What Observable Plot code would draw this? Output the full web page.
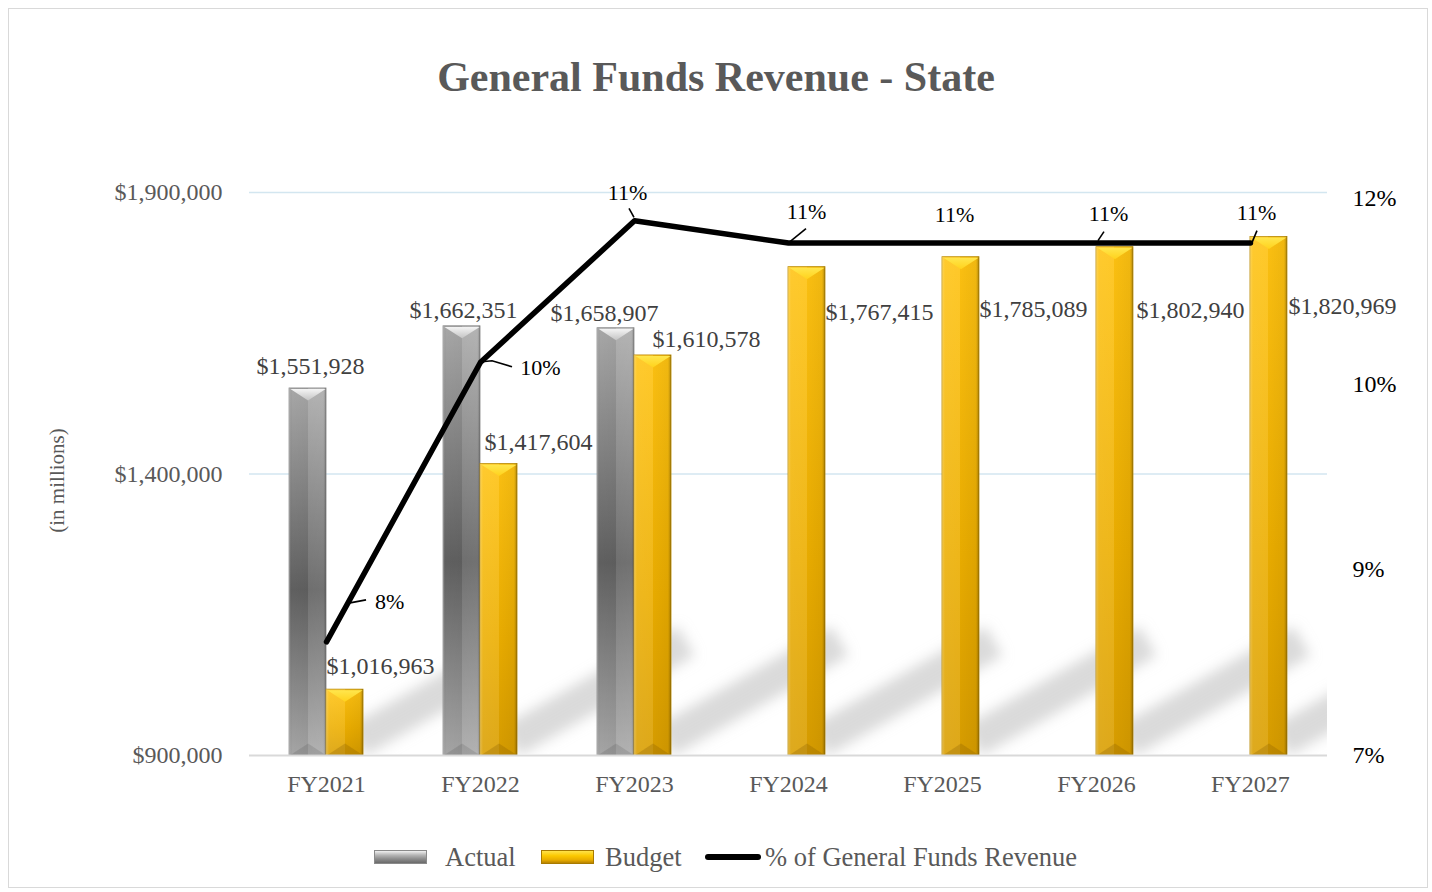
<!DOCTYPE html>
<html>
<head>
<meta charset="utf-8">
<script src="https://cdn.jsdelivr.net/npm/d3@7"></script>
<script src="https://cdn.jsdelivr.net/npm/@observablehq/plot@0.6"></script>
<style>
html,body{margin:0;padding:0;background:#fff;}
body{width:1432px;height:892px;position:relative;overflow:hidden;font-family:'Liberation Serif','Times New Roman',serif;}
#frame{position:absolute;left:8px;top:8px;width:1420px;height:880px;border:1px solid #d9d9d9;box-sizing:border-box;pointer-events:none;}
#title{position:absolute;left:0;width:1432px;top:56px;text-align:center;font-size:42px;line-height:42px;font-weight:bold;color:#595959;}
#chart{position:absolute;left:0;top:130px;width:1432px;}
.lg{position:absolute;font-size:26.5px;line-height:30px;color:#595959;top:842px;white-space:nowrap;}
.sw{position:absolute;top:850px;width:53px;height:14px;box-sizing:border-box;}
#swGray{left:374px;background:linear-gradient(#f0f0f0 0%,#b4b4b4 35%,#8e8e8e 65%,#6a6a6a 100%);border:1px solid #8a8a8a;}
#swGold{left:541px;background:linear-gradient(#ffe24a 0%,#fcc800 40%,#e8ac00 75%,#b88400 100%);border:1px solid #a87a00;}
#swLine{position:absolute;left:705px;top:854px;width:56px;height:6px;background:#000;border-radius:3px;}
</style>
</head>
<body>
<svg width="0" height="0" style="position:absolute;left:0;top:0">
  <defs>
    <linearGradient id="grayV" x1="0" y1="0" x2="0" y2="1">
      <stop offset="0" stop-color="#acacac"/>
      <stop offset="0.55" stop-color="#626262"/>
      <stop offset="1" stop-color="#aaaaaa"/>
    </linearGradient>
    <linearGradient id="goldV" x1="0" y1="0" x2="0" y2="1">
      <stop offset="0" stop-color="#ffc312"/>
      <stop offset="0.6" stop-color="#ecae00"/>
      <stop offset="1" stop-color="#d99e00"/>
    </linearGradient>
    <linearGradient id="shadeGold" x1="0" y1="0" x2="1" y2="0">
      <stop offset="0" stop-color="#fff" stop-opacity="0.3"/>
      <stop offset="0.08" stop-color="#fff" stop-opacity="0.12"/>
      <stop offset="0.5" stop-color="#fff" stop-opacity="0.1"/>
      <stop offset="0.5" stop-color="#000" stop-opacity="0.02"/>
      <stop offset="0.92" stop-color="#000" stop-opacity="0.06"/>
      <stop offset="1" stop-color="#000" stop-opacity="0.3"/>
    </linearGradient>
    <linearGradient id="shadeGray" x1="0" y1="0" x2="1" y2="0">
      <stop offset="0" stop-color="#fff" stop-opacity="0.25"/>
      <stop offset="0.08" stop-color="#000" stop-opacity="0.03"/>
      <stop offset="0.5" stop-color="#000" stop-opacity="0.05"/>
      <stop offset="0.5" stop-color="#fff" stop-opacity="0.08"/>
      <stop offset="0.92" stop-color="#fff" stop-opacity="0.1"/>
      <stop offset="1" stop-color="#000" stop-opacity="0.25"/>
    </linearGradient>
    <linearGradient id="chevGray" x1="0" y1="0" x2="0" y2="1">
      <stop offset="0" stop-color="#f4f4f4"/>
      <stop offset="1" stop-color="#c4c4c4"/>
    </linearGradient>
    <linearGradient id="chevGold" x1="0" y1="0" x2="0" y2="1">
      <stop offset="0" stop-color="#ffe64d"/>
      <stop offset="1" stop-color="#ffd21c"/>
    </linearGradient>
    <filter id="softBlur" x="-30%" y="-30%" width="160%" height="160%">
      <feGaussianBlur stdDeviation="6.5"/>
    </filter>
  </defs>
</svg>

<div id="title">General Funds Revenue - State</div>
<div id="chart"></div>

<div class="sw" id="swGray"></div>
<div class="lg" style="left:445px">Actual</div>
<div class="sw" id="swGold"></div>
<div class="lg" style="left:605px">Budget</div>
<div id="swLine"></div>
<div class="lg" style="left:765px">% of General Funds Revenue</div>
<div id="frame"></div>

<script>
// ---------- data ----------
const years = ["FY2021", "FY2022", "FY2023", "FY2024", "FY2025", "FY2026", "FY2027"];
const actualValues = [1551928, 1662351, 1658907, null, null, null, null];
const budgetValues = [1016963, 1417604, 1610578, 1767415, 1785089, 1802940, 1820969];
const pctValues = [0.0802, 0.1053, 0.1180, 0.1160, 0.1160, 0.1160, 0.1160];
const leftTicks = [900000, 1400000, 1900000];
const gridTicks = [1400000, 1900000];
const rightTicks = [0.07, 0.0867, 0.1033, 0.12];
const yLabel = "(in millions)";

// ---------- layout / styling config ----------
const BASE = 900000;
const PCT_LO = 0.07, PCT_HI = 0.12, Y_AT_PCT_LO = 900000, Y_AT_PCT_HI = 1889300;
const pctToY = p => Y_AT_PCT_LO + (p - PCT_LO) / (PCT_HI - PCT_LO) * (Y_AT_PCT_HI - Y_AT_PCT_LO);
const HALF = 37; // half of group width in px
const actualLabelOffset = [[-16, -22], [-17, -16], [-30, -15]];
const budgetLabelOffset = [[54, -23], [58, -22], [72, -16], [91, 45], [91, 52], [94, 63], [92, 69]];
const pctLabelOffset = [[63, -39.5], [60, 6], [-7, -28], [18, -31], [12, -28], [12, -29], [6, -30]];
const pctLeader = [
  [[24, -38.5], [40, -41.5]],
  [[2, 0], [12, -1], [32, 5]],
  [[0, -3], [-5, -12]],
  [[2, -1], [18, -14]],
  null,
  [[2, -2], [8, -11]],
  [[2, 0], [7, -12]]
];

const rows = years.map((year, i) => ({year, actual: actualValues[i], budget: budgetValues[i], pct: pctValues[i], i}));
const actualRows = rows.filter(d => d.actual != null);
const money = d3.format("$,");
const pctLabel = p => Math.floor(p * 100 + 1e-9) + "%";
const rightFmt = d3.format(".0%");

const chevTop = {draw(ctx) { ctx.moveTo(-17.6, 0.6); ctx.lineTo(17.6, 0.6); ctx.lineTo(0, 12); ctx.closePath(); }};
const chevBot = {draw(ctx) { ctx.moveTo(-17.6, -0.5); ctx.lineTo(17.6, -0.5); ctx.lineTo(0, -12); ctx.closePath(); }};

function shadows(index, scales, values, dimensions) {
  const {x, y} = scales;
  const bw = x.bandwidth ? x.bandwidth() : 2 * HALF;
  const {width, height, marginLeft, marginRight, marginBottom} = dimensions;
  const g = d3.create("svg:g");
  g.append("clipPath").attr("id", "frameClip").append("rect")
    .attr("x", marginLeft).attr("y", 0)
    .attr("width", width - marginLeft - marginRight)
    .attr("height", height - marginBottom - 1);
  const gg = g.append("g").attr("clip-path", "url(#frameClip)")
    .append("g").attr("filter", "url(#softBlur)").attr("fill", "#c2c2c2").attr("fill-opacity", 0.6);
  const yb = y(BASE);
  rows.forEach(d => {
    const xr = x(d.year) + bw;
    const h = yb - y(d.budget);
    const k = Math.min(1, h / 110);
    const ex = 175 * k, ey = -100 * k;
    const len = Math.hypot(ex, ey), ux = ex / len, uy = ey / len;
    const nx = -uy, ny = ux;
    const t = 17;
    const sx = xr - 6, sy = yb - 14;
    const pts = [[sx - nx * t, sy - ny * t], [sx + ex - nx * t, sy + ey - ny * t], [sx + ex + nx * t, sy + ey + ny * t], [sx + nx * t, sy + ny * t]];
    gg.append("path").attr("d", "M" + pts.map(p => p.join(",")).join("L") + "Z");
  });
  return g.node();
}

function leaders(index, scales) {
  const {x, y} = scales;
  const bw = x.bandwidth ? x.bandwidth() : 2 * HALF;
  const g = d3.create("svg:g").attr("fill", "none").attr("stroke", "#000").attr("stroke-width", 1.6);
  rows.forEach((d, i) => {
    const L = pctLeader[i];
    if (!L) return;
    const px = x(d.year) + bw / 2, py = y(pctToY(d.pct));
    g.append("path").attr("d", "M" + L.map(([dx, dy]) => (px + dx) + "," + (py + dy)).join("L"));
  });
  return g.node();
}

const font = "'Liberation Serif','Times New Roman',serif";

const marks = [
  Plot.ruleY(gridTicks, {stroke: "#d3e6f0", strokeWidth: 1.5}),
  shadows,
  // actual bars
  Plot.barY(actualRows, {x: "year", y1: d => BASE, y2: "actual", insetRight: HALF, fill: "url(#grayV)", stroke: "#8a8a8a", strokeWidth: 0.8}),
  Plot.barY(actualRows, {x: "year", y1: d => BASE, y2: "actual", insetRight: HALF, fill: "url(#shadeGray)"}),
  Plot.dot(actualRows, {x: "year", y: "actual", dx: -HALF / 2, symbol: chevTop, fill: "url(#chevGray)"}),
  Plot.dot(actualRows, {x: "year", y: d => BASE, dx: -HALF / 2, symbol: chevBot, fill: "#000", fillOpacity: 0.1}),
  // budget bars
  Plot.barY(rows, {x: "year", y1: d => BASE, y2: "budget", insetLeft: HALF, fill: "url(#goldV)", stroke: "#b98a00", strokeWidth: 0.8}),
  Plot.barY(rows, {x: "year", y1: d => BASE, y2: "budget", insetLeft: HALF, fill: "url(#shadeGold)"}),
  Plot.dot(rows, {x: "year", y: "budget", dx: HALF / 2, symbol: chevTop, fill: "url(#chevGold)"}),
  Plot.dot(rows, {x: "year", y: d => BASE, dx: HALF / 2, symbol: chevBot, fill: "#7a5200", fillOpacity: 0.25}),
  Plot.ruleY([BASE], {stroke: "#d9d9d9", strokeWidth: 2}),
  // percent line
  Plot.line(rows, {x: "year", y: d => pctToY(d.pct), stroke: "#000", strokeWidth: 5.5, strokeLinecap: "round", strokeLinejoin: "round"}),
  leaders,
  // axes as text
  Plot.text(leftTicks, {y: d => d, frameAnchor: "left", dx: -27, textAnchor: "end", lineAnchor: "middle", text: d => money(d), fontSize: 24, fill: "#595959"}),
  Plot.text(years, {x: d => d, frameAnchor: "bottom", dy: 29, lineAnchor: "middle", text: d => d, fontSize: 24, fill: "#595959"}),
  Plot.text(rightTicks, {y: d => pctToY(d), frameAnchor: "right", dx: 25, textAnchor: "start", lineAnchor: "middle", text: d => rightFmt(d), fontSize: 24, fill: "#000"}),
  Plot.text([yLabel], {frameAnchor: "left", dx: -192, dy: 6.5, rotate: -90, textAnchor: "middle", lineAnchor: "middle", text: d => d, fontSize: 21, fill: "#595959"}),
  // data labels
  ...actualRows.map((d, i) => Plot.text([d], {x: "year", y: "actual", dx: actualLabelOffset[i][0], dy: actualLabelOffset[i][1], text: r => money(r.actual), fontSize: 24, fill: "#404040"})),
  ...rows.map((d, i) => Plot.text([d], {x: "year", y: "budget", dx: budgetLabelOffset[i][0], dy: budgetLabelOffset[i][1], text: r => money(r.budget), fontSize: 24, fill: "#404040"})),
  ...rows.map((d, i) => Plot.text([d], {x: "year", y: r => pctToY(r.pct), dx: pctLabelOffset[i][0], dy: pctLabelOffset[i][1], text: r => pctLabel(r.pct), fontSize: 22, fill: "#000"}))
];

const chart = Plot.plot({
  width: 1432,
  height: 680,
  marginLeft: 249,
  marginRight: 105,
  marginTop: 62,
  marginBottom: 55,
  style: {fontFamily: font, fontSize: "24px", color: "#595959", background: "transparent", overflow: "visible"},
  x: {domain: years, paddingInner: 0.5195, paddingOuter: 0.26, round: false, axis: null},
  y: {domain: [900000, 1900000], axis: null},
  marks
});
document.getElementById("chart").appendChild(chart);
</script>
</body>
</html>
